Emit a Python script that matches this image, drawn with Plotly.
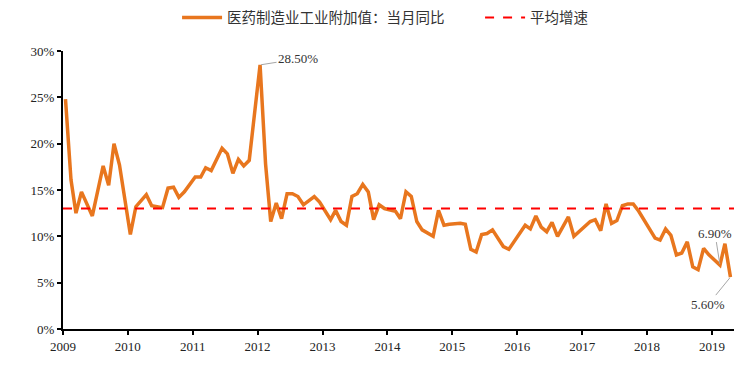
import plotly.graph_objects as go

# ---- data (monthly, value in %) ----
months = [
    "2009-01", "2009-02", "2009-03", "2009-04", "2009-06", "2009-08", "2009-09", "2009-10", "2009-11",
    "2010-01", "2010-02", "2010-04", "2010-05", "2010-07", "2010-08", "2010-09", "2010-10", "2010-11",
    "2011-01", "2011-02", "2011-03", "2011-04", "2011-06", "2011-07", "2011-08", "2011-09", "2011-10", "2011-11",
    "2012-01", "2012-02", "2012-03", "2012-04", "2012-05", "2012-06", "2012-07", "2012-08", "2012-09", "2012-11", "2012-12",
    "2013-02", "2013-03", "2013-04", "2013-05", "2013-06", "2013-07", "2013-08", "2013-09", "2013-10", "2013-11", "2013-12",
    "2014-02", "2014-03", "2014-04", "2014-05", "2014-06", "2014-07", "2014-09", "2014-10", "2014-11", "2014-12",
    "2015-02", "2015-03", "2015-04", "2015-05", "2015-06", "2015-07", "2015-08", "2015-10", "2015-11",
    "2016-02", "2016-03", "2016-04", "2016-05", "2016-06", "2016-07", "2016-08", "2016-10", "2016-11",
    "2017-02", "2017-03", "2017-04", "2017-05", "2017-06", "2017-07", "2017-08", "2017-09", "2017-10", "2017-11",
    "2018-02", "2018-03", "2018-04", "2018-05", "2018-06", "2018-07", "2018-08", "2018-09", "2018-10", "2018-11", "2018-12",
    "2019-02", "2019-03", "2019-04",
]
values = [
    24.8, 16.1, 12.5, 14.8, 12.2, 17.6, 15.5, 20.0, 17.7,
    10.2, 13.2, 14.5, 13.3, 13.1, 15.2, 15.3, 14.2, 14.8,
    16.4, 16.4, 17.4, 17.1, 19.5, 18.9, 16.8, 18.3, 17.6, 18.2,
    28.5, 17.8, 11.6, 13.6, 11.9, 14.6, 14.6, 14.3, 13.4, 14.3, 13.7,
    11.8, 12.8, 11.6, 11.2, 14.3, 14.6, 15.6, 14.8, 11.8, 13.4, 13.0,
    12.7, 11.9, 14.8, 14.3, 11.6, 10.7, 10.0, 12.8, 11.2, 11.3,
    11.4, 11.3, 8.6, 8.3, 10.2, 10.3, 10.7, 8.9, 8.6,
    11.2, 10.8, 12.2, 11.0, 10.5, 11.5, 10.0, 12.1, 10.0,
    11.6, 11.8, 10.6, 13.5, 11.4, 11.7, 13.3, 13.5, 13.5, 12.7,
    9.8, 9.6, 10.8, 10.1, 8.0, 8.2, 9.4, 6.7, 6.4, 8.7, 8.0,
    6.9, 9.2, 5.6,
]
dates = [m + "-15" for m in months]

average_growth = 13.0
x_span = ["2009-01-01", "2019-05-05"]
year_ticks = [f"{y}-01-01" for y in range(2009, 2020)]
year_labels = [str(y) for y in range(2009, 2020)]
y_ticks = [0, 5, 10, 15, 20, 25, 30]
y_labels = [f"{v}%" for v in y_ticks]

series_name = "医药制造业工业附加值：当月同比"
avg_name = "平均增速"

# labelled points: (index into data, text, ax, ay)
labels = [
    (28, "28.50%", 38, -6),
    (len(values) - 3, "6.90%", -5, -32),
    (len(values) - 1, "5.60%", -22, 27),
]

fig = go.Figure()
fig.add_trace(go.Scatter(
    x=dates, y=values, mode="lines", name=series_name,
    line=dict(color="#E8761E", width=3.5),
))
fig.add_trace(go.Scatter(
    x=x_span, y=[average_growth, average_growth], mode="lines", name=avg_name,
    line=dict(color="#FF0000", width=2, dash="dash"),
))

for idx, txt, ax, ay in labels:
    fig.add_annotation(
        x=dates[idx], y=values[idx], text=txt, showarrow=True,
        arrowhead=0, arrowwidth=1, arrowcolor="#A6A6A6", ax=ax, ay=ay,
        standoff=1, font=dict(family="Liberation Serif", size=13, color="#333333"),
    )

fig.update_layout(
    width=756, height=368,
    margin=dict(l=63, r=22, t=51, b=39, autoexpand=False),
    paper_bgcolor="white", plot_bgcolor="white",
    showlegend=True,
    legend=dict(
        orientation="h", x=0.17, xanchor="left", y=1.12, yanchor="middle",
        font=dict(family="Noto Sans CJK SC", size=14.5, color="#333333"),
        itemwidth=40, entrywidth=248, entrywidthmode="pixels",
        tracegroupgap=0, bgcolor="rgba(0,0,0,0)",
    ),
    font=dict(family="Liberation Serif", size=13, color="#222222"),
)
fig.update_xaxes(
    range=x_span, tickmode="array", tickvals=year_ticks, ticktext=year_labels,
    showgrid=False, zeroline=False, showline=True, linecolor="black", linewidth=2,
    ticks="outside", ticklen=4, tickwidth=2, tickcolor="black",
    tickfont=dict(family="Liberation Serif", size=13, color="#222222"),
)
fig.update_yaxes(
    range=[0, 30], tickmode="array", tickvals=y_ticks, ticktext=y_labels,
    showgrid=False, zeroline=False, showline=True, linecolor="black", linewidth=2,
    ticks="outside", ticklen=4, tickwidth=2, tickcolor="black",
    tickfont=dict(family="Liberation Serif", size=13, color="#222222"),
)

fig.write_html(
    "out.html",
    config={"displayModeBar": False},
    post_script="document.body.style.margin='0';document.body.style.padding='0';",
)
